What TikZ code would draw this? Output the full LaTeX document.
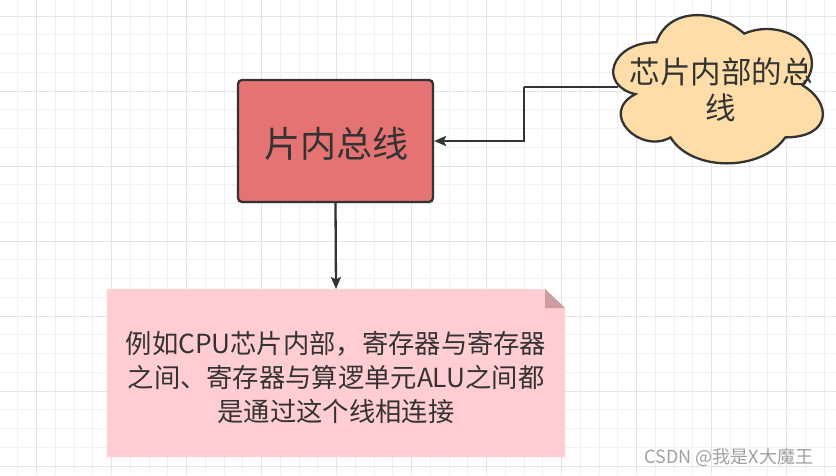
\documentclass[tikz,border=0pt]{standalone}
\usepackage{fontspec}
\setmainfont{Noto Sans CJK SC}
\usetikzlibrary{arrows.meta}
\definecolor{gridminor}{HTML}{F1F1F1}
\definecolor{gridmajor}{HTML}{E3E3E3}
\definecolor{edgecol}{HTML}{333333}
\definecolor{busfill}{HTML}{E57373}
\definecolor{cloudfill}{HTML}{FFDDA8}
\definecolor{notefill}{HTML}{FFCDD2}
\definecolor{foldfill}{HTML}{CD9CA2}
\definecolor{txtcol}{HTML}{333333}
\definecolor{markcol}{HTML}{A0A0A0}
\tikzset{
  busbox/.style={draw=edgecol, line width=2.3pt, fill=busfill, rounded corners=4pt,
    minimum width=195pt, minimum height=122pt, inner sep=0pt,
    font=\fontsize{36}{40}\selectfont, text=txtcol},
  notebody/.style={minimum width=458pt, minimum height=168pt, inner sep=0pt},
  notetext/.style={align=center, text=txtcol, font=\fontsize{26.3}{34}\selectfont, inner sep=0pt},
  cloudtext/.style={align=center, text=txtcol, font=\fontsize{30.5}{36}\selectfont, inner sep=0pt},
  conn/.style={draw=edgecol, line width=2.3pt, -{Stealth[length=12pt,width=10pt,inset=2.5pt]}},
  plainconn/.style={draw=edgecol, line width=2.3pt},
  watermark/.style={text=markcol, font=\fontsize{18}{20}\selectfont, inner sep=0pt}
}
\begin{document}
\begin{tikzpicture}[x=1pt,y=-1pt]
\useasboundingbox (0,0) rectangle (836,475);
\fill[white] (0,0) rectangle (836,475);
% grid
\foreach \k in {1,...,45} {
  \pgfmathsetmacro\gx{-0.8+18.75*\k}
  \draw[gridminor, line width=1pt] (\gx,0) -- (\gx,475);
}
\foreach \k in {1,...,26} {
  \pgfmathsetmacro\gy{-2.75+18.75*\k}
  \draw[gridminor, line width=1pt] (0,\gy) -- (836,\gy);
}
\foreach \k in {2,6,...,42} {
  \pgfmathsetmacro\gx{-0.8+18.75*\k}
  \draw[gridmajor, line width=1pt] (\gx,0) -- (\gx,475);
}
\foreach \k in {1,5,...,25} {
  \pgfmathsetmacro\gy{-2.75+18.75*\k}
  \draw[gridmajor, line width=1pt] (0,\gy) -- (836,\gy);
}

% nodes
\node[busbox] (bus) at (335.5,141) {};
\node[busbox, draw=none, fill=none] (buslabel) at (336,143.5) {片内总线};

\node[notebody] (note) at (336,373) {};
\coordinate (notetop) at (336,289);
\coordinate (cloudL) at (618,87);
\coordinate (bend) at (524,87);

% connectors (under shapes)
\draw[plainconn] (cloudL) -- (bend);
\draw[conn] (bend) |- (bus.east);
\draw[conn] (bus.south) -- (notetop);

% note body with folded corner
\fill[notefill] (note.north west) -- (545,289) -- (565,308) -- (note.south east) -- (note.south west) -- cycle;
\fill[foldfill] (545,289) -- (545,308) -- (565,308) -- cycle;
\node[notetext] (notetxt) at (336,377) {例如CPU芯片内部，寄存器与寄存器\\之间、寄存器与算逻单元ALU之间都\\是通过这个线相连接};

% cloud
\filldraw[fill=cloudfill, draw=edgecol, line width=2.3pt]
  (656.5,42.25) .. controls (609.7,42.25) and (598,85.5) .. (635.44,94.15)
  .. controls (598,113.18) and (640.12,154.7) .. (670.54,137.4)
  .. controls (691.6,172) and (761.8,172) .. (785.2,137.4)
  .. controls (832,137.4) and (832,102.8) .. (802.75,85.5)
  .. controls (832,50.9) and (785.2,16.3) .. (744.25,33.6)
  .. controls (715,7.65) and (668.2,7.65) .. (656.5,42.25) -- cycle;
\node[cloudtext] (cloud) at (721,90) {芯片内部的总\\线};

% watermark
\node[watermark] (mark) at (729,457) {CSDN @我是X大魔王};
\end{tikzpicture}
\end{document}
